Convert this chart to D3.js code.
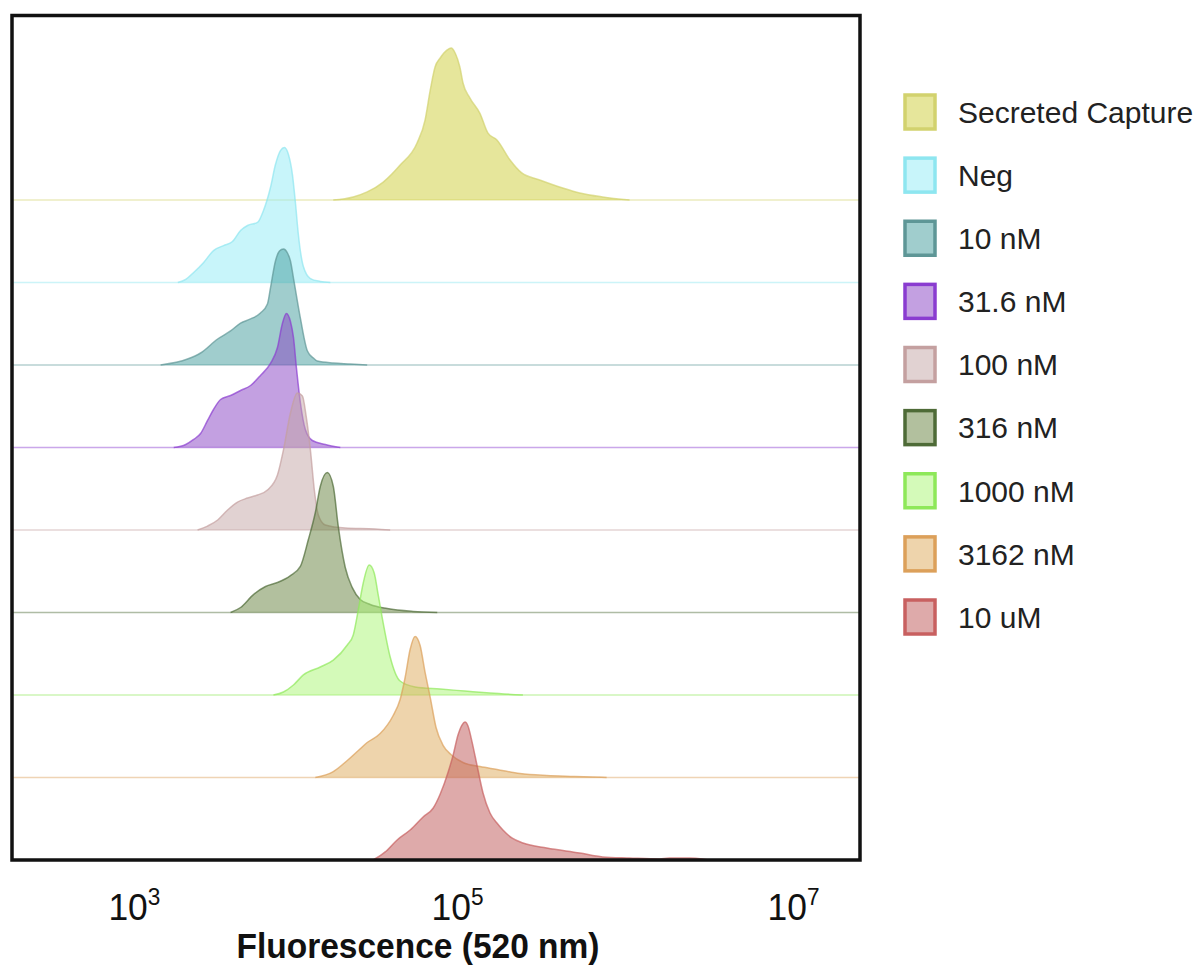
<!DOCTYPE html>
<html>
<head>
<meta charset="utf-8">
<script src="https://cdn.jsdelivr.net/npm/d3@7/dist/d3.min.js"></script>
<style>
  body { margin: 0; background: #ffffff; }
  svg { display: block; }
</style>
</head>
<body>
<svg id="chart" width="1201" height="971"></svg>
<script>
// Samples, top row to bottom row
const samples = ["Secreted Capture", "Neg", "10 nM", "31.6 nM", "100 nM", "316 nM", "1000 nM", "3162 nM", "10 uM"];
const colors  = ["#cdcd37", "#91ebf5", "#419b9b", "#8741c3", "#c3a5a5", "#65813d", "#a9f573", "#dda959", "#bd5555"];
const strokes = ["#d2d26e", "#8ee6f0", "#5e9696", "#8a3cd0", "#c4a0a0", "#4e6b37", "#8ee85a", "#dca05a", "#c86060"];

// Histogram traces: fluorescence (520 nm) and normalised count (% of max)
const fluorSecreted = [18200, 24000, 29100, 36300, 45800, 57800, 64500, 69300, 74000, 79400, 87400, 92300, 97500, 104000, 108600, 119500, 137000, 153000, 173000, 207000, 243000, 311000, 426000, 538000, 736000, 1065000];
const countSecreted = [0, 2, 5.3, 11.8, 23, 37.5, 52.6, 72.4, 87.5, 93.4, 98.7, 100, 96.7, 87.5, 77, 67, 57, 44, 39.5, 26.3, 17.8, 13.2, 7.9, 4.6, 2, 0];

const fluorNeg = [1990, 2240, 2520, 2920, 3370, 3900, 4430, 4970, 5490, 6320, 6880, 7590, 8140, 8730, 9230, 9760, 10320, 10760, 11210, 12020, 13260, 15210, 17480];
const countNeg = [0, 2, 6.6, 13.2, 21, 24.3, 27, 34.2, 37.5, 39.5, 47.4, 62.5, 77.6, 86.8, 88.8, 84.2, 71, 52.6, 31.6, 10.5, 2.6, 0.7, 0];

const fluor10nM = [1530, 2300, 2790, 3580, 4310, 4970, 5730, 6590, 7270, 7590, 8140, 8610, 9100, 9630, 10040, 10470, 11530, 12720, 13820, 14590, 18220, 23030, 29090];
const count10nM = [0, 3.9, 7.9, 17.1, 22.4, 27.6, 30.3, 34.2, 40.1, 50.7, 68.4, 75, 76.3, 73.7, 68.4, 57.2, 30.9, 9.2, 4.6, 2.6, 1.3, 0.7, 0];

const fluor31nM = [1870, 2240, 2520, 2790, 3090, 3370, 3730, 4310, 4970, 5730, 6590, 7590, 8370, 8970, 9490, 10040, 10470, 10910, 11530, 12360, 13620, 16310, 20070];
const count31nM = [0, 2, 5.3, 9.2, 17.8, 25, 31.6, 34.2, 37.5, 40.8, 47.4, 55.3, 65.8, 81.6, 88.2, 82.9, 72.4, 52.6, 29.6, 11.8, 4.6, 2, 0];

const fluor100nM = [2670, 3090, 3580, 4130, 4760, 5490, 6320, 7270, 8370, 9100, 10040, 11060, 11860, 12540, 13260, 14000, 14800, 16310, 21490, 32500, 39930];
const count100nM = [0, 2.6, 6.6, 13.2, 18.4, 21, 23, 26.3, 36.2, 52.6, 77, 90.1, 88.2, 73.7, 52.6, 26.3, 9.9, 3.3, 1.3, 0.7, 0];

const fluor316nM = [4310, 4970, 5970, 7080, 8370, 10040, 11530, 12890, 14200, 15210, 16760, 18220, 19510, 21490, 23680, 26430, 30320, 38320, 54740, 76250];
const count316nM = [0, 3.3, 11.8, 17.1, 19.7, 24.3, 30.3, 48, 65.8, 82.9, 92.1, 82.9, 56.6, 29.6, 16.4, 8.6, 5.3, 2.6, 0.7, 0];

const fluor1000nM = [7910, 9100, 10470, 12020, 15210, 18220, 22100, 24000, 25720, 27550, 29910, 32040, 33860, 36260, 39930, 45780, 56240, 79450, 111600, 157300, 246900];
const count1000nM = [0, 2, 6.6, 13.2, 18.4, 23, 32.9, 39.5, 55.9, 73.7, 85.5, 80.3, 65.8, 47.4, 25, 9.2, 5.3, 3.9, 2.6, 1.3, 0];

const fluor3162nM = [14200, 18220, 22100, 25360, 29090, 34790, 41610, 45780, 49050, 52530, 56240, 60270, 64530, 69280, 75010, 82780, 93390, 108600, 137000, 173000, 237000, 342600, 502100, 777700];
const count3162nM = [0, 3.9, 11.2, 17.1, 23, 28.9, 40.8, 51.3, 65.8, 84.2, 92.8, 86.8, 69.1, 52.6, 32.9, 21, 14.5, 9.9, 7.2, 5.3, 2.6, 1.3, 0.7, 0];

const fluor10uM = [31590, 37280, 43930, 52530, 62780, 72180, 79450, 88610, 94870, 101400, 107100, 111600, 116300, 123000, 131500, 142900, 157300, 173000, 187800, 212200, 246900, 342600, 537800, 736300, 1065000, 1604000, 1839000, 2417000, 2887000, 3175000];
const count10uM = [0, 5.3, 13.2, 19.7, 28.3, 34.2, 43.4, 57.9, 69.1, 82.2, 88.8, 90.8, 88.2, 77.6, 62.5, 44.1, 30.9, 24.3, 19.7, 14.5, 11.2, 7.9, 4.6, 2, 1.3, 0.7, 1.3, 1.3, 0.7, 0];

const fluorTraces = [fluorSecreted, fluorNeg, fluor10nM, fluor31nM, fluor100nM, fluor316nM, fluor1000nM, fluor3162nM, fluor10uM];
const countTraces = [countSecreted, countNeg, count10nM, count31nM, count100nM, count316nM, count1000nM, count3162nM, count10uM];

const tickValues = [1e3, 1e5, 1e7];
const xTitle = "Fluorescence (520 nm)";

// Layout
const plot = { left: 12, top: 15.5, right: 860, bottom: 860 };
const svg = d3.select("#chart");

const x = d3.scaleSymlog().constant(200).domain([26, 2.5e7]).range([plot.left, plot.right]);
const row = d3.scalePoint().domain(samples).range([200, plot.bottom]);
const h = d3.scaleLinear().domain([0, 100]).range([0, 152]);

const series = samples.map((name, i) => ({
  name,
  fill: colors[i],
  stroke: strokes[i],
  base: row(name),
  points: fluorTraces[i].map((f, j) => [f, countTraces[i][j]])
}));

const g = svg.append("g");

// Baselines across the full width, then the filled histograms, top row first
series.forEach(s => {
  g.append("line")
    .attr("x1", plot.left).attr("x2", plot.right)
    .attr("y1", s.base).attr("y2", s.base)
    .attr("stroke", s.stroke).attr("stroke-opacity", 0.45).attr("stroke-width", 1.6);

  const area = d3.area()
    .curve(d3.curveMonotoneX)
    .x(d => x(d[0]))
    .y0(s.base)
    .y1(d => s.base - h(d[1]));
  const line = d3.line()
    .curve(d3.curveMonotoneX)
    .x(d => x(d[0]))
    .y(d => s.base - h(d[1]));

  g.append("path").datum(s.points)
    .attr("d", area)
    .attr("fill", s.fill).attr("fill-opacity", 0.5);
  g.append("path").datum(s.points)
    .attr("d", line)
    .attr("fill", "none")
    .attr("stroke", s.stroke).attr("stroke-opacity", 0.7).attr("stroke-width", 1.5);
});

// Frame
svg.append("rect")
  .attr("x", plot.left).attr("y", plot.top)
  .attr("width", plot.right - plot.left).attr("height", plot.bottom - plot.top)
  .attr("fill", "none").attr("stroke", "#111").attr("stroke-width", 3.5);

// X axis: powers of ten
const axis = svg.append("g")
  .attr("transform", `translate(0,${plot.bottom})`)
  .call(d3.axisBottom(x).tickValues(tickValues).tickSize(0).tickFormat(() => ""));
axis.select(".domain").remove();
axis.selectAll(".tick text").each(function(d) {
  const t = d3.select(this)
    .attr("y", 60).attr("dy", null)
    .attr("font-family", "'Liberation Sans', Arial, sans-serif")
    .attr("font-size", 36).attr("fill", "#111")
    .attr("text-anchor", "middle")
    .attr("textLength", 52).attr("lengthAdjust", "spacingAndGlyphs");
  t.append("tspan").text("10");
  t.append("tspan").attr("font-size", 23).attr("dy", -15).text(String(Math.round(Math.log10(d))));
});

svg.append("text")
  .attr("x", 418).attr("y", 958)
  .attr("text-anchor", "middle")
  .attr("font-family", "'Liberation Sans', Arial, sans-serif")
  .attr("font-weight", "bold").attr("font-size", 35).attr("fill", "#111")
  .attr("textLength", 363).attr("lengthAdjust", "spacingAndGlyphs")
  .text(xTitle);

// Legend
const legend = svg.append("g").attr("transform", "translate(905,0)");
const legendY = d3.scalePoint().domain(samples).range([112, 617]);
series.forEach(s => {
  const gy = legendY(s.name);
  legend.append("rect")
    .attr("x", 0).attr("y", gy - 17).attr("width", 30).attr("height", 34)
    .attr("fill", s.fill).attr("fill-opacity", 0.5)
    .attr("stroke", s.stroke).attr("stroke-width", 3.5);
  legend.append("text")
    .attr("x", 53).attr("y", gy).attr("dy", "0.36em")
    .attr("font-family", "'Liberation Sans', Arial, sans-serif")
    .attr("font-size", 30).attr("fill", "#222")
    .text(s.name);
});
</script>
</body>
</html>
